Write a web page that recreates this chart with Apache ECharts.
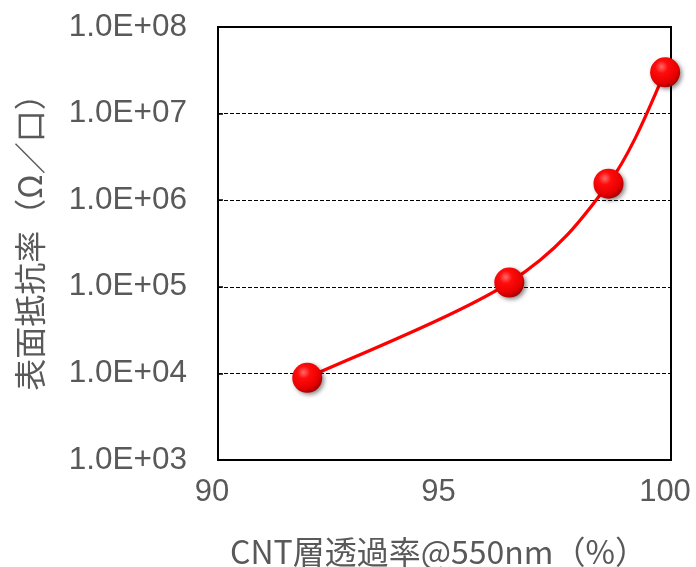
<!DOCTYPE html>
<html>
<head>
<meta charset="utf-8">
<script src="https://cdn.jsdelivr.net/npm/echarts@6/dist/echarts.min.js"></script>
<style>
  html, body { margin: 0; padding: 0; background: #fff; }
  #chart { width: 696px; height: 567px; }
</style>
</head>
<body>
<div id="chart"></div>
<script>
// CNT layer transmittance (%) vs. sheet resistance (ohm/sq)
const transmittance = [91.97, 96.43, 98.62, 99.87];
const sheetResistance = [8.9e3, 1.12e5, 1.55e6, 3.0e7];

const xTicks = [90, 95, 100];
const yTicks = [1e3, 1e4, 1e5, 1e6, 1e7, 1e8];
const yTickLabels = ['1.0E+03', '1.0E+04', '1.0E+05', '1.0E+06', '1.0E+07', '1.0E+08'];

const xTitle = 'CNT層透過率@550nm（%）';
const yTitle = '表面抵抗率（Ω／口）';

const textColor = '#595959';
const numFont = '"Liberation Sans", Arial, sans-serif';
const cjkFont = '"Noto Sans CJK JP", sans-serif';

const points = transmittance.map((x, i) => [x, sheetResistance[i]]);

const chart = echarts.init(document.getElementById('chart'), null, { renderer: 'canvas' });

// glossy red sphere for the markers
const sphere = {
  type: 'radial', x: 0.38, y: 0.32, r: 0.7,
  colorStops: [
    { offset: 0, color: '#ff6a6a' },
    { offset: 0.3, color: '#ff0c0c' },
    { offset: 0.75, color: '#e80000' },
    { offset: 1, color: '#a80000' }
  ]
};

// Catmull-Rom style smoothed segment between point i and i+1, in screen space
function renderSegment(params, api) {
  const n = points.length;
  const i = params.dataIndex;
  if (i >= n - 1) return null;
  const at = k => {
    const j = Math.max(0, Math.min(n - 1, k));
    return api.coord(points[j]);
  };
  const p0 = at(i - 1), p1 = at(i), p2 = at(i + 1), p3 = at(i + 2);
  const t = 1 / 6;
  return {
    type: 'bezierCurve',
    shape: {
      x1: p1[0], y1: p1[1], x2: p2[0], y2: p2[1],
      cpx1: p1[0] + (p2[0] - p0[0]) * t, cpy1: p1[1] + (p2[1] - p0[1]) * t,
      cpx2: p2[0] - (p3[0] - p1[0]) * t, cpy2: p2[1] - (p3[1] - p1[1]) * t
    },
    style: { stroke: '#ff0000', lineWidth: 3.2, fill: null, lineCap: 'round' }
  };
}

chart.setOption({
  animation: false,
  backgroundColor: '#fff',
  grid: {
    left: 218, right: 25, top: 27, bottom: 107,
    outerBoundsMode: 'none',
    containLabel: false,
    show: true, borderColor: '#000', borderWidth: 2, backgroundColor: 'transparent'
  },
  xAxis: {
    type: 'value',
    min: xTicks[0], max: xTicks[xTicks.length - 1], interval: 5,
    axisLine: { show: false },
    axisTick: { show: false },
    splitLine: { show: false },
    axisLabel: {
      color: textColor, fontFamily: numFont, fontSize: 31, margin: 17,
      padding: [0, 12, 0, 0],
      formatter: v => String(v)
    },
    name: xTitle, nameLocation: 'middle', nameGap: 76,
    nameTextStyle: { color: textColor, fontFamily: cjkFont, fontSize: 32, padding: [0, 12, 0, 0] }
  },
  yAxis: {
    type: 'log', logBase: 10,
    min: yTicks[0], max: yTicks[yTicks.length - 1],
    axisLine: { show: false },
    axisTick: { show: true, inside: true, length: 5, lineStyle: { color: '#000', width: 1.5 } },
    splitLine: { show: true, lineStyle: { color: '#000', width: 1, type: [4, 2] } },
    axisLabel: {
      color: textColor, fontFamily: numFont, fontSize: 31.5, margin: 31,
      formatter: v => {
        const i = yTicks.findIndex(t => Math.abs(Math.log10(t) - Math.log10(v)) < 1e-6);
        return i >= 0 ? yTickLabels[i] : '';
      }
    },
    name: yTitle, nameLocation: 'middle', nameGap: 172, nameRotate: 90,
    nameTextStyle: { color: textColor, fontFamily: cjkFont, fontSize: 32, padding: [0, 0, 0, 18] }
  },
  series: [{
    type: 'custom',
    data: points,
    encode: { x: 0, y: 1 },
    renderItem: renderSegment,
    silent: true,
    z: 3
  }, {
    type: 'scatter',
    data: points,
    symbol: 'circle',
    symbolSize: 30,
    itemStyle: {
      color: sphere, opacity: 1,
      shadowBlur: 4, shadowColor: 'rgba(0,0,0,0.45)', shadowOffsetX: 2, shadowOffsetY: 2
    },
    z: 5
  }]
});
</script>
</body>
</html>
